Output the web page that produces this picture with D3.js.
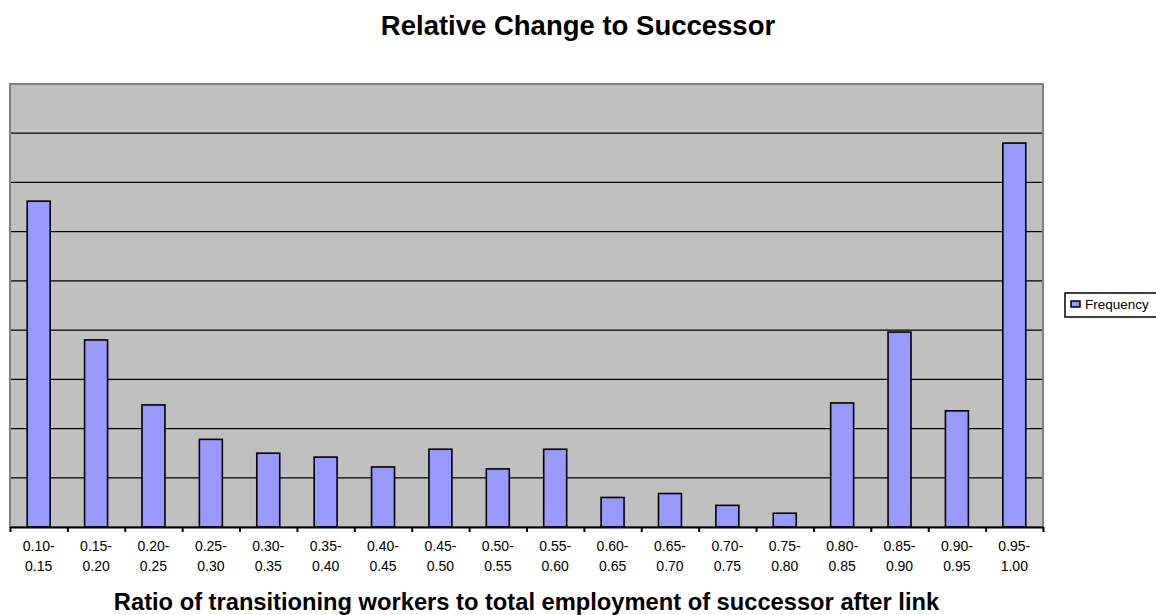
<!DOCTYPE html>
<html>
<head>
<meta charset="utf-8">
<script src="https://cdn.jsdelivr.net/npm/d3@7"></script>
<style>
  html, body { margin: 0; padding: 0; background: #fff; }
  svg { display: block; font-family: "Liberation Sans", Arial, sans-serif; }
</style>
</head>
<body>
<svg id="chart" width="1156" height="615"></svg>
<script>
const categories = ["0.10-0.15","0.15-0.20","0.20-0.25","0.25-0.30","0.30-0.35","0.35-0.40",
  "0.40-0.45","0.45-0.50","0.50-0.55","0.55-0.60","0.60-0.65","0.65-0.70",
  "0.70-0.75","0.75-0.80","0.80-0.85","0.85-0.90","0.90-0.95","0.95-1.00"];
const frequency = [331, 190, 124, 89, 75, 71, 61, 79, 59, 79, 30, 34, 22, 14, 126, 198, 118, 390];
const yTicks = [0, 50, 100, 150, 200, 250, 300, 350, 400, 450];
const seriesName = "Frequency";
const titleText = "Relative Change to Successor";
const xTitleText = "Ratio of transitioning workers to total employment of successor after link";

(function () {
const svg = d3.select("#chart");
const pL = 10, pR = 1043, pT = 84, pB = 527;

const x = d3.scaleBand().domain(categories).range([pL, pR]).paddingInner(0.6).paddingOuter(0.3);
const y = d3.scaleLinear().domain([0, 450]).range([pB, pT]);
const xb = d3.scaleLinear().domain([0, categories.length]).range([pL, pR]);

// plot background
svg.append("rect").attr("x", pL).attr("y", pT).attr("width", pR - pL).attr("height", pB - pT)
  .attr("fill", "#C0C0C0");

// gridlines
svg.append("g").selectAll("line").data(yTicks.filter(t => t > 0 && t < 450)).join("line")
  .attr("x1", pL).attr("x2", pR).attr("y1", d => y(d)).attr("y2", d => y(d))
  .attr("stroke", "#000").attr("stroke-width", 1.3);

// plot border
svg.append("rect").attr("x", pL).attr("y", pT).attr("width", pR - pL).attr("height", pB - pT)
  .attr("fill", "none").attr("stroke", "#808080").attr("stroke-width", 2);

// bars
svg.append("g").selectAll("rect").data(categories).join("rect")
  .attr("x", d => x(d)).attr("width", x.bandwidth())
  .attr("y", (d, i) => y(frequency[i])).attr("height", (d, i) => y(0) - y(frequency[i]))
  .attr("fill", "#9999FF").attr("stroke", "#000").attr("stroke-width", 1.6);

// x axis with ticks between categories
const axis = d3.axisBottom(xb).tickValues(d3.range(categories.length + 1)).tickSize(5).tickSizeOuter(0).tickFormat("");
const ag = svg.append("g").attr("transform", `translate(0,${pB})`).call(axis);
ag.select(".domain").attr("stroke", "#000").attr("stroke-width", 2);
ag.selectAll(".tick line").attr("stroke", "#000").attr("stroke-width", 2);

// category labels (two lines)
const lab = svg.append("g").selectAll("text").data(categories).join("text")
  .attr("text-anchor", "middle").attr("font-size", 14).attr("fill", "#000");
lab.append("tspan").attr("x", d => x(d) + x.bandwidth() / 2).attr("y", 551).text(d => d.split("-")[0] + "-");
lab.append("tspan").attr("x", d => x(d) + x.bandwidth() / 2).attr("y", 570.5).text(d => d.split("-")[1]);

// titles
svg.append("text").attr("x", 578).attr("y", 35).attr("text-anchor", "middle")
  .attr("font-size", 27.5).attr("font-weight", "bold").text(titleText);
svg.append("text").attr("x", (pL + pR) / 2).attr("y", 610).attr("text-anchor", "middle")
  .attr("font-size", 23.7).attr("font-weight", "bold").text(xTitleText);

// legend
const lg = svg.append("g");
lg.append("rect").attr("x", 1065).attr("y", 293).attr("width", 92).attr("height", 24)
  .attr("fill", "#fff").attr("stroke", "#000").attr("stroke-width", 1.5);
lg.append("rect").attr("x", 1071).attr("y", 301).attr("width", 9).attr("height", 6)
  .attr("fill", "#9999FF").attr("stroke", "#000").attr("stroke-width", 1.5);
lg.append("text").attr("x", 1085).attr("y", 309).attr("font-size", 13.5).text(seriesName);
})();
</script>
</body>
</html>
